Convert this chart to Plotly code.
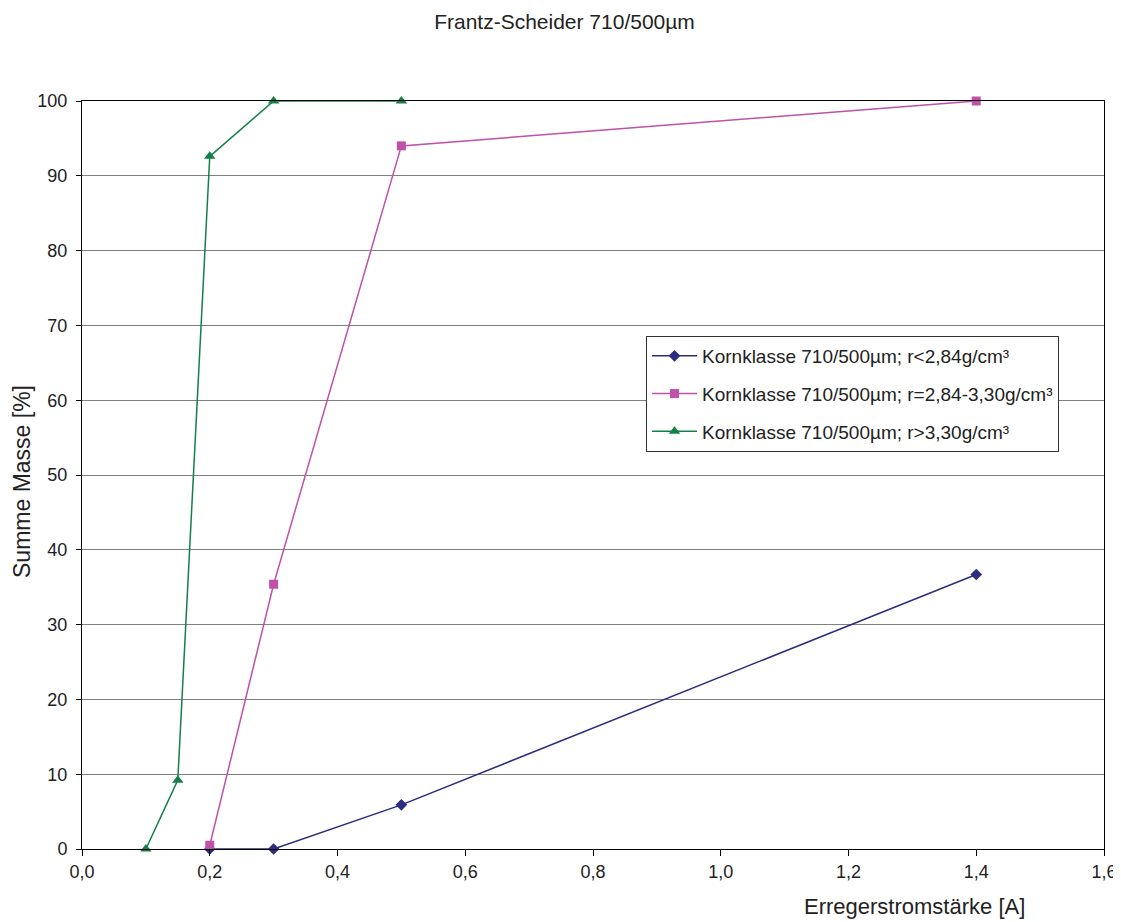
import plotly.graph_objects as go

x_low = [0.2, 0.3, 0.5, 1.4]
y_low = [0.0, 0.0, 5.9, 36.7]
x_mid = [0.2, 0.3, 0.5, 1.4]
y_mid = [0.5, 35.4, 94.0, 100.0]
x_high = [0.1, 0.15, 0.2, 0.3, 0.5]
y_high = [0.0, 9.2, 92.6, 100.0, 100.0]

names = ["Kornklasse 710/500µm; r<2,84g/cm³",
         "Kornklasse 710/500µm; r=2,84-3,30g/cm³",
         "Kornklasse 710/500µm; r>3,30g/cm³"]
colors = ["#2B2D7E", "#C050A8", "#128048"]
symbols = ["diamond", "square", "triangle-up"]
sizes = [9, 9, 10]

W, H = 1113, 914  # page has an 8px body margin
fig = go.Figure()
for i, (xs, ys) in enumerate([(x_low, y_low), (x_mid, y_mid), (x_high, y_high)]):
    fig.add_trace(go.Scatter(
        x=xs, y=ys, mode="lines+markers", name=names[i],
        legendgroup=f"g{i}",
        line=dict(color=colors[i], width=1.5),
        marker=dict(symbol=symbols[i], size=sizes[i], color=colors[i]),
        cliponaxis=False,
    ))

fig.update_layout(
    width=W, height=H,
    margin=dict(l=74, r=17, t=93, b=73, autoexpand=False),
    paper_bgcolor="white", plot_bgcolor="white",
    font=dict(family="Liberation Sans, Arial, sans-serif", size=18, color="#222"),
    separators=",.",
    title=dict(text="Frantz-Scheider 710/500µm", x=0.5, xanchor="center",
               y=1 - 14 / H, yanchor="middle", font=dict(size=21)),
    legend=dict(x=(646 - 82) / 1022, y=(849 - 336) / 748, xanchor="left", yanchor="top",
                bgcolor="white", bordercolor="#333", borderwidth=1,
                font=dict(size=19), tracegroupgap=10, itemwidth=45),
    showlegend=True,
)
fig.update_xaxes(range=[0, 1.6], dtick=0.2, tickformat=".1f", showgrid=False,
                 showline=True, linecolor="black", linewidth=1, mirror=True,
                 ticks="outside", ticklen=6, tickcolor="black", automargin=False,
                 tickfont=dict(size=18), zeroline=False)
fig.update_yaxes(range=[0, 100], dtick=10, showgrid=True, gridcolor="#808080", gridwidth=1,
                 showline=True, linecolor="black", linewidth=1, mirror=True,
                 ticks="outside", ticklen=5, tickcolor="black", ticklabelstandoff=5,
                 automargin=False, tickfont=dict(size=18), zeroline=False)

fig.add_annotation(text="Erregerstromstärke [A]", xref="paper", yref="paper",
                   x=(1027 - 82) / 1022, y=(849 - 906) / 748, xanchor="right", yanchor="middle",
                   showarrow=False, font=dict(size=22))
fig.add_annotation(text="Summe Masse [%]", xref="paper", yref="paper",
                   x=(22 - 82) / 1022, y=(849 - 482) / 748, xanchor="center", yanchor="middle",
                   textangle=-90, showarrow=False, font=dict(size=23))

fig.write_html("out.html")
